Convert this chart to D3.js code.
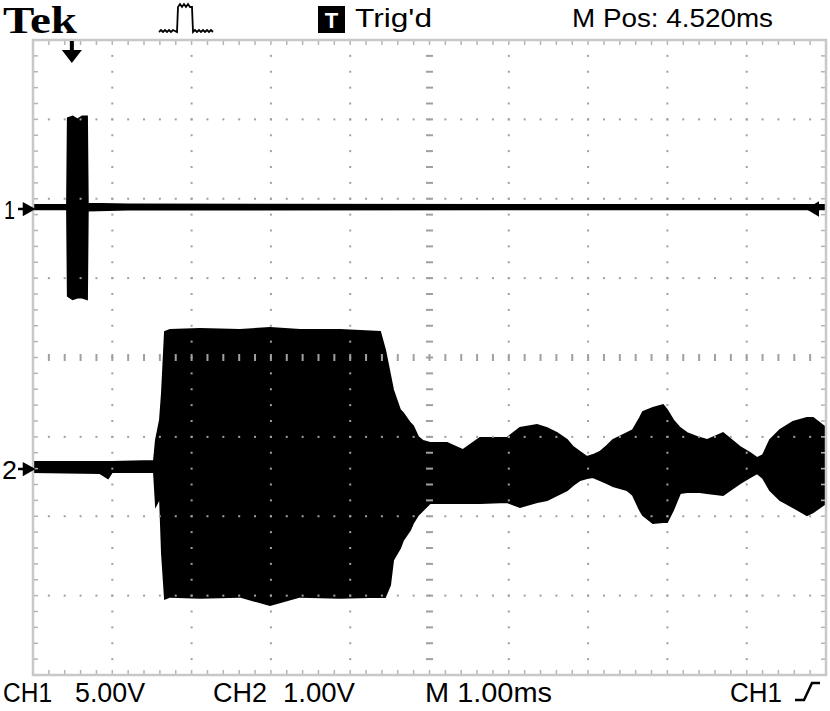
<!DOCTYPE html>
<html><head><meta charset="utf-8">
<script src="https://cdn.jsdelivr.net/npm/d3@7"></script>
<style>html,body{margin:0;padding:0;background:#fff;}svg{display:block;}</style>
</head><body>
<svg id="c" width="830" height="711"></svg>
<script>
// ---- data ----
// Channel 1 (5.00 V/div): envelope of the trace, time in ms from left edge of screen
const ch1Time  = [0, 0.43, 0.44, 0.50, 0.56, 0.62, 0.68, 0.69, 1.20, 10];
const ch1Upper = [0.12, 0.12, 5.6, 5.7, 5.5, 5.7, 5.7, 0.20, 0.15, 0.12];
const ch1Lower = [-0.14, -0.14, -5.6, -5.8, -5.7, -5.7, -5.8, -0.22, -0.16, -0.14];
// Channel 2 (1.00 V/div): envelope of the trace
const ch2Time  = [0, 0.845, 0.946, 0.996, 1.526, 1.551, 1.602, 1.627, 1.665, 1.728, 2.106, 2.610, 2.989, 3.367, 3.871, 4.376, 4.439, 4.502, 4.540, 4.628, 4.666, 4.754, 4.792, 4.855, 4.918, 5.006, 5.221, 5.422, 5.637, 5.977, 6.141, 6.356, 6.482, 6.608, 6.734, 6.810, 6.898, 6.986, 7.062, 7.150, 7.238, 7.314, 7.491, 7.566, 7.654, 7.692, 7.818, 7.945, 7.995, 8.071, 8.159, 8.247, 8.411, 8.499, 8.701, 8.915, 9.042, 9.130, 9.206, 9.294, 9.420, 9.584, 9.760, 9.836, 10.0];
const ch2Upper = [0.063, 0.063, 0.063, 0.063, 0.076, 0.340, 0.592, 0.932, 1.701, 1.726, 1.739, 1.726, 1.751, 1.726, 1.726, 1.701, 1.474, 1.159, 0.970, 0.718, 0.680, 0.554, 0.517, 0.378, 0.328, 0.302, 0.302, 0.214, 0.365, 0.365, 0.491, 0.529, 0.491, 0.428, 0.340, 0.252, 0.189, 0.126, 0.151, 0.189, 0.265, 0.340, 0.428, 0.466, 0.617, 0.693, 0.743, 0.781, 0.718, 0.592, 0.491, 0.428, 0.365, 0.340, 0.428, 0.252, 0.176, 0.113, 0.151, 0.340, 0.466, 0.567, 0.617, 0.617, 0.491];
const ch2Lower = [-0.063, -0.076, -0.139, -0.063, -0.063, -0.479, -0.378, -1.084, -1.658, -1.633, -1.646, -1.633, -1.739, -1.633, -1.646, -1.633, -1.638, -1.487, -1.172, -1.020, -0.920, -0.794, -0.706, -0.605, -0.542, -0.454, -0.454, -0.454, -0.454, -0.441, -0.504, -0.441, -0.416, -0.353, -0.290, -0.227, -0.164, -0.139, -0.126, -0.164, -0.202, -0.239, -0.290, -0.353, -0.542, -0.605, -0.706, -0.693, -0.693, -0.542, -0.328, -0.315, -0.315, -0.328, -0.353, -0.202, -0.126, -0.076, -0.139, -0.290, -0.416, -0.504, -0.605, -0.567, -0.454];
// on-screen annotations
const headerTexts = ["Tek", "Trig'd", "M Pos: 4.520ms"];
const footerTexts = ["CH1", "5.00V", "CH2", "1.00V", "M 1.00ms", "CH1"];
const chVoltsPerDiv = [5.0, 1.0];
const chOffsetDiv = [1.896, -1.38];
const triggerTime = 0.49;

// ---- layout ----
const svg = d3.select("#c");
const L = 33, R = 826, T = 40, B = 675;
const x = d3.scaleLinear().domain([0, 10]).range([L, R]);
const yDiv = d3.scaleLinear().domain([-4, 4]).range([B, T]);
const yCh = ch => v => yDiv(chOffsetDiv[ch] + v / chVoltsPerDiv[ch]);

svg.append("rect").attr("width", 830).attr("height", 711).attr("fill", "#fff");

// traces
function drawTrace(ch, time, up, lo) {
  const data = time.map((t, i) => ({t, hi: up[i], lo: lo[i]}));
  const y = yCh(ch);
  const area = d3.area().x(d => x(d.t)).y0(d => y(d.lo)).y1(d => y(d.hi));
  svg.append("path").datum(data).attr("d", area)
    .attr("fill", "#000").attr("stroke", "#000").attr("stroke-width", 2);
}
drawTrace(0, ch1Time, ch1Upper, ch1Lower);
drawTrace(1, ch2Time, ch2Upper, ch2Lower);

// graticule on top
const g = svg.append("g");
const sub = d3.range(0, 10.001, 0.2);
const subY = d3.range(-4, 4.001, 0.2);
const dotCol = "#a0a0a0";
[1,2,3,4,6,7,8,9].forEach(k => {
  subY.forEach(v => {
    if (Math.abs(v) > 3.99) return;
    g.append("rect").attr("x", x(k) - 1).attr("y", yDiv(v) - 1).attr("width", 2).attr("height", 2).attr("fill", dotCol);
  });
});
[-3,-2,-1,1,2,3].forEach(k => {
  sub.forEach(t => {
    if (t < 0.01 || t > 9.99) return;
    g.append("rect").attr("x", x(t) - 1).attr("y", yDiv(k) - 1).attr("width", 2).attr("height", 2).attr("fill", dotCol);
  });
});
sub.forEach(t => {
  if (t < 0.01 || t > 9.99) return;
  g.append("rect").attr("x", x(t) - 1).attr("y", yDiv(0) - 3.5).attr("width", 2).attr("height", 7).attr("fill", dotCol);
});
subY.forEach(v => {
  if (Math.abs(v) > 3.99) return;
  g.append("rect").attr("x", x(5) - 3.5).attr("y", yDiv(v) - 1).attr("width", 7).attr("height", 2).attr("fill", dotCol);
});
const tickCol = "#b4b4b4";
sub.forEach(t => {
  g.append("line").attr("x1", x(t)).attr("x2", x(t)).attr("y1", T).attr("y2", T + 5).attr("stroke", tickCol).attr("stroke-width", 1.5);
  g.append("line").attr("x1", x(t)).attr("x2", x(t)).attr("y1", B).attr("y2", B - 5).attr("stroke", tickCol).attr("stroke-width", 1.5);
});
subY.forEach(v => {
  g.append("line").attr("x1", L).attr("x2", L + 5).attr("y1", yDiv(v)).attr("y2", yDiv(v)).attr("stroke", tickCol).attr("stroke-width", 1.5);
  g.append("line").attr("x1", R).attr("x2", R - 5).attr("y1", yDiv(v)).attr("y2", yDiv(v)).attr("stroke", tickCol).attr("stroke-width", 1.5);
});
g.append("rect").attr("x", L).attr("y", T).attr("width", R - L).attr("height", B - T)
  .attr("fill", "none").attr("stroke", "#c8c8c8").attr("stroke-width", 2.5);

// channel ground markers
const font = "'Liberation Sans', Arial, sans-serif";
[0, 1].forEach(ch => {
  const yy = yCh(ch)(0) + 2;
  svg.append("text").attr("x", ch === 0 ? 4 : 2).attr("y", yy + 10).text(String(ch + 1))
    .attr("font-family", font).attr("font-size", 26)
    .attr("textLength", ch === 0 ? 11 : 15).attr("lengthAdjust", "spacingAndGlyphs");
  svg.append("path").attr("d", `M18,${yy}H30 M24,${yy-5}L33,${yy}L24,${yy+5}Z`)
    .attr("stroke", "#000").attr("stroke-width", 2.5).attr("fill", "#000");
});
{
  const yy = yCh(0)(0) + 2;
  svg.append("path").attr("d", `M808,${yy}L818,${yy-6}L818,${yy+6}Z M818,${yy}H824`)
    .attr("stroke", "#000").attr("stroke-width", 2).attr("fill", "#000");
}
{
  const xx = x(triggerTime);
  svg.append("path").attr("d", `M${xx},41V52`).attr("stroke", "#000").attr("stroke-width", 4);
  svg.append("path").attr("d", `M${xx-10},50H${xx+10}L${xx},63Z`).attr("fill", "#000");
}

// header
svg.append("text").attr("x", 3).attr("y", 33).text(headerTexts[0])
  .attr("font-family", "'Liberation Serif', 'DejaVu Serif', serif").attr("font-weight", "bold")
  .attr("font-size", 38).attr("textLength", 74).attr("lengthAdjust", "spacingAndGlyphs");
svg.append("path")
  .attr("d", "M159,32 l2,-2 l2,2 l2,-2 l2,2 l2,-2 l2,2 l2,-2 L177,32 L178,7 l2,-3 l2,3 l2,-3 l2,3 l2,-3 l2,3 L192,7 L193,32 l2,-2 l2,2 l2,-2 l2,2 l2,-2 l2,2 l2,-2 l2,2 l2,-2 l2,2")
  .attr("fill", "none").attr("stroke", "#000").attr("stroke-width", 1.8);
svg.append("rect").attr("x", 318).attr("y", 6).attr("width", 27).attr("height", 27).attr("fill", "#000");
svg.append("text").attr("x", 331.5).attr("y", 28).attr("text-anchor", "middle").text("T")
  .attr("font-family", font).attr("font-weight", "bold").attr("font-size", 22).attr("fill", "#fff");
svg.append("text").attr("x", 355).attr("y", 27).text(headerTexts[1])
  .attr("font-family", font).attr("font-size", 26).attr("textLength", 77).attr("lengthAdjust", "spacingAndGlyphs");
svg.append("text").attr("x", 572).attr("y", 27).text(headerTexts[2])
  .attr("font-family", font).attr("font-size", 26).attr("textLength", 201).attr("lengthAdjust", "spacingAndGlyphs");

// footer
const footX = [3, 75, 213, 283, 425, 730];
const footW = [49, 70, 54, 72, 127, 52];
footerTexts.forEach((s, i) => {
  svg.append("text").attr("x", footX[i]).attr("y", 702).text(s)
    .attr("font-family", font).attr("font-size", 27)
    .attr("textLength", footW[i]).attr("lengthAdjust", "spacingAndGlyphs");
});
svg.append("path").attr("d", "M795,700H804L812,683H820")
  .attr("fill", "none").attr("stroke", "#000").attr("stroke-width", 2.5);
</script>
</body></html>
